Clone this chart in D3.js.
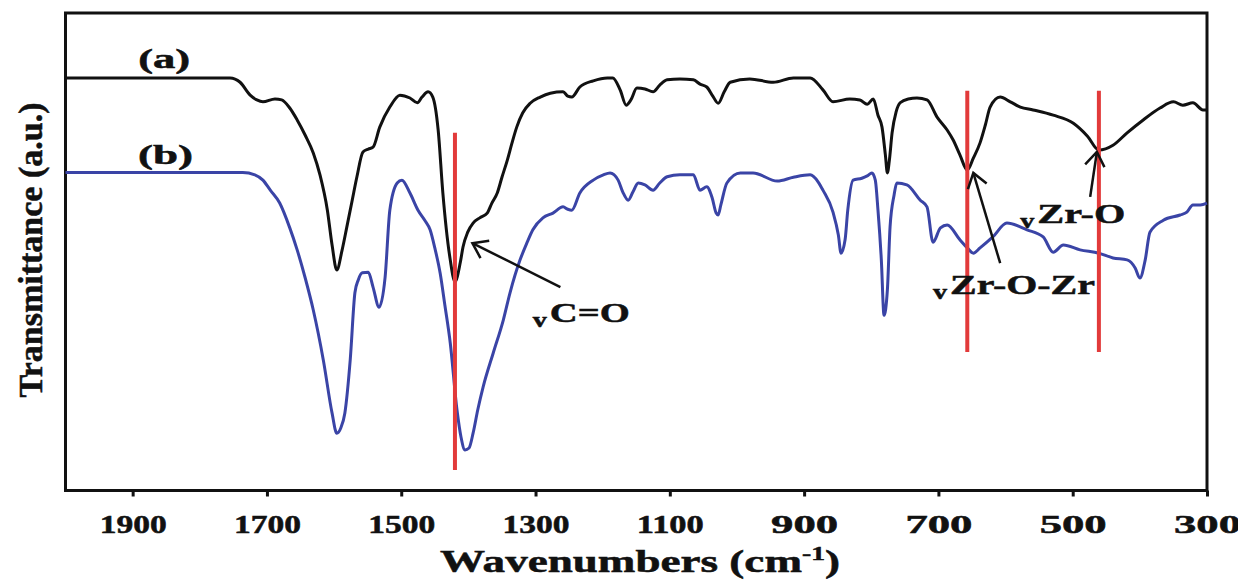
<!DOCTYPE html>
<html>
<head>
<meta charset="utf-8">
<script src="https://cdn.jsdelivr.net/npm/d3@7"></script>
<style>
  body { margin: 0; background: #fff; }
  svg { display: block; }
  text { font-family: "Times New Roman", "Liberation Serif", Tinos, serif; font-weight: bold; fill: #111; stroke: #111; stroke-width: 0.5px; }
</style>
</head>
<body>
<svg id="chart" width="1238" height="580"></svg>
<script>
// FT-IR spectra: [wavenumber (cm-1), transmittance (a.u.)]
const spectrumA = [
  [2000,86.4],[1755,86.4],[1740,85.5],[1725,82.8],[1715,81.8],[1706,81.4],[1688,82.0],[1678,81.8],
  [1666,80.1],[1655,77.6],[1643,74.4],[1631,70.7],[1621,66.1],[1610,58.7],[1603,51.4],[1596,46.2],
  [1588,50.4],[1581,55.2],[1573,60.8],[1566,65.7],[1557,70.9],[1549,71.5],[1542,71.9],[1532,76.1],
  [1517,80.3],[1502,82.8],[1487,82.2],[1476,81.2],[1469,82.4],[1460,83.5],[1453,82.4],[1445,75.5],
  [1438,62.3],[1427,48.3],[1420,43.7],[1412,47.8],[1408,51.0],[1401,54.1],[1393,56.0],[1383,57.1],
  [1372,58.1],[1365,60.2],[1357,62.3],[1350,65.6],[1342,69.2],[1335,72.8],[1328,76.1],[1319,79.1],
  [1308,81.1],[1293,82.4],[1278,83.2],[1259,83.5],[1252,82.6],[1246,82.4],[1234,84.5],[1214,85.8],
  [1193,86.4],[1185,86.4],[1174,83.9],[1165,80.7],[1158,81.8],[1149,84.3],[1137,84.1],[1125,83.5],
  [1115,84.9],[1104,86.0],[1085,86.2],[1065,86.0],[1055,85.1],[1045,84.5],[1036,82.6],[1028,81.1],
  [1019,83.5],[1010,85.5],[981,86.2],[946,85.5],[916,86.4],[891,86.4],[872,83.9],[857,81.4],
  [832,82.0],[817,81.8],[806,80.9],[797,82.0],[790,78.6],[784,76.1],[779,70.3],[776,66.5],
  [773,69.2],[769,74.9],[763,79.3],[757,81.2],[745,82.0],[732,82.2],[717,81.8],[702,78.2],
  [687,75.5],[678,73.4],[668,70.3],[657,67.1],[648,69.6],[638,72.8],[630,76.6],[623,80.3],
  [608,82.4],[593,81.4],[578,80.3],[559,79.7],[529,78.6],[499,76.9],[478,74.2],[461,71.3],
  [440,72.3],[419,74.9],[395,77.6],[370,80.1],[350,81.4],[336,80.7],[321,81.2],[306,79.7],[300,79.7]
];

const spectrumB = [
  [2000,66.6],[1736,66.6],[1718,66.1],[1706,65.0],[1695,62.9],[1681,60.2],[1666,55.0],[1655,50.4],
  [1643,44.5],[1631,37.8],[1616,27.3],[1603,16.2],[1596,12.0],[1590,13.1],[1584,16.2],[1576,27.3],
  [1569,41.4],[1564,44.1],[1558,45.6],[1549,45.7],[1542,42.6],[1533,38.4],[1524,44.7],[1517,58.7],
  [1506,64.4],[1499,65.0],[1487,62.3],[1475,58.7],[1465,56.6],[1457,54.6],[1450,50.8],[1442,45.5],
  [1435,38.8],[1427,30.9],[1417,16.9],[1411,11.2],[1405,8.5],[1399,8.9],[1393,12.0],[1386,16.9],
  [1378,21.7],[1363,28.8],[1348,35.7],[1338,41.4],[1323,48.3],[1313,51.8],[1304,54.6],[1289,57.1],
  [1274,58.1],[1259,59.4],[1252,58.9],[1246,58.7],[1234,62.3],[1214,65.0],[1199,66.1],[1189,66.5],
  [1177,65.0],[1170,62.5],[1162,60.8],[1155,62.5],[1147,64.4],[1137,64.0],[1125,62.9],[1115,64.4],
  [1104,65.7],[1085,66.1],[1065,66.1],[1055,62.9],[1045,63.6],[1037,61.3],[1031,58.1],[1028,57.7],
  [1024,59.8],[1015,64.4],[995,66.5],[976,66.5],[940,64.8],[916,65.6],[891,66.1],[879,64.6],
  [872,62.9],[857,58.3],[849,53.5],[845,49.7],[839,52.5],[835,58.7],[827,65.0],[814,65.4],
  [806,65.9],[799,66.5],[794,65.0],[790,58.7],[785,48.3],[781,36.7],[776,42.0],[772,55.2],
  [766,61.9],[762,64.4],[747,64.0],[727,60.8],[717,59.4],[708,52.0],[697,55.0],[687,55.6],
  [668,52.5],[657,50.8],[648,49.7],[638,50.8],[619,53.1],[598,56.0],[568,54.6],[544,53.1],
  [529,49.9],[514,51.4],[489,50.4],[461,49.7],[440,48.7],[419,48.3],[407,46.6],[400,44.5],
  [392,48.3],[385,54.1],[365,56.6],[340,57.7],[330,58.3],[321,59.8],[310,59.8],[300,60.2]
];

// Band positions marked with vertical guide lines: wavenumber, top and bottom transmittance
const bandMarkers = [
  { wn: 1420, top: 74.9, bottom: 4.3 },
  { wn: 657,  top: 83.7, bottom: 29.0 },
  { wn: 461,  top: 83.7, bottom: 29.0 }
];

// Band assignments: arrow head/tail and label anchor in data coordinates
const bandLabels = [
  { text: "C=O",     head: [1394, 51.8], tail: [1263, 42.6], at: [1304, 35.2], len: 80 },
  { text: "Zr-O-Zr", head: [648, 66.5],  tail: [608, 47.6],  at: [708, 41.1],  len: 145 },
  { text: "Zr-O",    head: [464, 70.9],  tail: [474, 61.5],  at: [578, 56.0],  len: 88 }
];

const seriesLabels = [
  { text: "(a)", at: [1853, 88.5], len: 52 },
  { text: "(b)", at: [1851, 68.4], len: 55 }
];

const tickValues = [1900, 1700, 1500, 1300, 1100, 900, 700, 500, 300];

const svg = d3.select("#chart");
const x = d3.scaleLinear().domain([2000, 300]).range([65.5, 1207]);
const y = d3.scaleLinear().domain([0, 100]).range([490.5, 13]);

// Bottom axis with outward ticks
const axis = svg.append("g")
  .attr("transform", `translate(0,${y(0)})`)
  .call(d3.axisBottom(x).tickValues(tickValues).tickSize(6).tickFormat(d3.format("d")));
axis.select(".domain").remove();
axis.selectAll(".tick line").attr("stroke", "#111").attr("stroke-width", 3);
axis.selectAll(".tick text")
  .attr("y", 42.5).attr("dy", 0)
  .attr("font-size", 25)
  .attr("fill", "#111")
  .attr("textLength", 67).attr("lengthAdjust", "spacingAndGlyphs");

// Plot frame
svg.append("rect")
  .attr("x", x(2000)).attr("y", y(100))
  .attr("width", x(300) - x(2000)).attr("height", y(0) - y(100))
  .attr("fill", "none").attr("stroke", "#111").attr("stroke-width", 3);

// Spectra
const line = d3.line().x(d => x(d[0])).y(d => y(d[1])).curve(d3.curveMonotoneX);
svg.append("path").datum(spectrumA).attr("d", line)
  .attr("fill", "none").attr("stroke", "#111").attr("stroke-width", 3).attr("stroke-linejoin", "round");
svg.append("path").datum(spectrumB).attr("d", line)
  .attr("fill", "none").attr("stroke", "#3a44a6").attr("stroke-width", 3).attr("stroke-linejoin", "round");

// Vertical band markers
svg.selectAll("line.band").data(bandMarkers).join("line")
  .attr("class", "band")
  .attr("x1", d => x(d.wn)).attr("x2", d => x(d.wn))
  .attr("y1", d => y(d.top)).attr("y2", d => y(d.bottom))
  .attr("stroke", "#e23a3a").attr("stroke-width", 4);

// Arrows with open chevron heads
const arms = 17, spread = 35 * Math.PI / 180;
bandLabels.forEach(b => {
  const hx = x(b.head[0]), hy = y(b.head[1]);
  const tx = x(b.tail[0]), ty = y(b.tail[1]);
  const ang = Math.atan2(ty - hy, tx - hx);
  const g = svg.append("g").attr("stroke", "#111").attr("stroke-width", 2.5).attr("fill", "none");
  g.append("line").attr("x1", tx).attr("y1", ty).attr("x2", hx).attr("y2", hy);
  g.append("path")
    .attr("d", `M${hx + arms * Math.cos(ang - spread)},${hy + arms * Math.sin(ang - spread)}L${hx},${hy}L${hx + arms * Math.cos(ang + spread)},${hy + arms * Math.sin(ang + spread)}`)
    .attr("stroke-linejoin", "miter");

  const lx = x(b.at[0]), ly = y(b.at[1]);
  svg.append("text").attr("x", lx).attr("y", ly + 5)
    .attr("font-size", 20).attr("textLength", 14).attr("lengthAdjust", "spacingAndGlyphs")
    .text("v");
  svg.append("text").attr("x", lx + 17).attr("y", ly)
    .attr("font-size", 28).attr("textLength", b.len).attr("lengthAdjust", "spacingAndGlyphs")
    .text(b.text);
});

// Series labels
svg.selectAll("text.series").data(seriesLabels).join("text")
  .attr("class", "series")
  .attr("x", d => x(d.at[0])).attr("y", d => y(d.at[1]))
  .attr("text-anchor", "middle")
  .attr("font-size", 27).attr("textLength", d => d.len).attr("lengthAdjust", "spacingAndGlyphs")
  .text(d => d.text);

// Axis titles
const xt = svg.append("text")
  .attr("x", 640).attr("y", 572).attr("text-anchor", "middle")
  .attr("font-size", 31).attr("textLength", 400).attr("lengthAdjust", "spacingAndGlyphs");
xt.append("tspan").text("Wavenumbers (cm");
xt.append("tspan").attr("font-size", 19).attr("dy", -12).text("-1");
xt.append("tspan").attr("dy", 12).text(")");

svg.append("text")
  .attr("transform", "translate(42,250) rotate(-90)")
  .attr("text-anchor", "middle")
  .attr("font-size", 34).attr("textLength", 295).attr("lengthAdjust", "spacingAndGlyphs")
  .text("Transmittance (a.u.)");
</script>
</body>
</html>
